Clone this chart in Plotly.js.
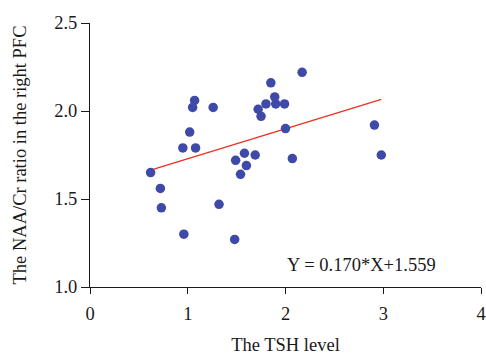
<!DOCTYPE html>
<html>
<head>
<meta charset="utf-8">
<script src="https://cdn.plot.ly/plotly-3.0.1.min.js"></script>
<style>html,body{margin:0;padding:0;background:#fff;}#chart{width:486px;height:357px;}</style>
</head>
<body>
<div id="chart"></div>
<script>
var tshLevel = [0.62, 0.72, 0.73, 0.96, 0.95, 1.02, 1.05, 1.07, 1.08, 1.26, 1.32, 1.48, 1.49, 1.54, 1.58, 1.60, 1.69, 1.72, 1.75, 1.80, 1.85, 1.89, 1.90, 1.99, 2.00, 2.07, 2.17, 2.91, 2.98];
var naaCr = [1.65, 1.56, 1.45, 1.30, 1.79, 1.88, 2.02, 2.06, 1.79, 2.02, 1.47, 1.27, 1.72, 1.64, 1.76, 1.69, 1.75, 2.01, 1.97, 2.04, 2.16, 2.08, 2.04, 2.04, 1.90, 1.73, 2.22, 1.92, 1.75];
var slope = 0.170;
var intercept = 1.559;
var xTicks = [0, 1, 2, 3, 4];
var yTicks = [1.0, 1.5, 2.0, 2.5];
var yTickLabels = ['1.0', '1.5', '2.0', '2.5'];
var equationText = 'Y = 0.170*X+1.559';

var xMin = Math.min.apply(null, tshLevel);
var xMax = Math.max.apply(null, tshLevel);
var fitX = [xMin, xMax];
var fitY = fitX.map(function (x) { return slope * x + intercept; });

var fam = '"Liberation Serif", "DejaVu Serif", serif';
var col = '#1a1a1a';
var sz = 18.5;

var data = [
  {x: fitX, y: fitY, type: 'scatter', mode: 'lines', line: {color: '#e8321f', width: 1.3}, hoverinfo: 'skip'},
  {x: tshLevel, y: naaCr, type: 'scatter', mode: 'markers', marker: {color: '#3f4aa8', size: 9.5, line: {width: 0}}}
];

var layout = {
  width: 486, height: 357,
  margin: {l: 90, r: 5, t: 23, b: 70},
  paper_bgcolor: '#fff', plot_bgcolor: '#fff',
  showlegend: false,
  font: {family: fam, color: col, size: sz},
  xaxis: {
    range: [0, 4], tickvals: xTicks, ticktext: xTicks.map(String),
    showgrid: false, zeroline: false, showline: true, linecolor: col, linewidth: 1,
    ticks: 'outside', ticklen: 6, tickcolor: col, tickwidth: 1,
    ticklabelstandoff: 4,
    tickfont: {family: fam, size: sz, color: col},
    title: {text: 'The TSH level', font: {family: fam, size: sz, color: col}, standoff: 14}
  },
  yaxis: {
    range: [1.0, 2.5], tickvals: yTicks, ticktext: yTickLabels,
    showgrid: false, zeroline: false, showline: true, linecolor: col, linewidth: 1,
    ticks: 'outside', ticklen: 8, tickcolor: col, tickwidth: 1,
    tickfont: {family: fam, size: sz, color: col},
    title: {text: 'The NAA/Cr ratio in the right PFC', font: {family: fam, size: sz, color: col}, standoff: 22}
  },
  annotations: [{
    x: 2.78, y: 1.125, xref: 'x', yref: 'y', text: equationText, showarrow: false,
    font: {family: fam, size: sz, color: col}
  }]
};

Plotly.newPlot('chart', data, layout, {displayModeBar: false, staticPlot: true});
</script>
</body>
</html>
